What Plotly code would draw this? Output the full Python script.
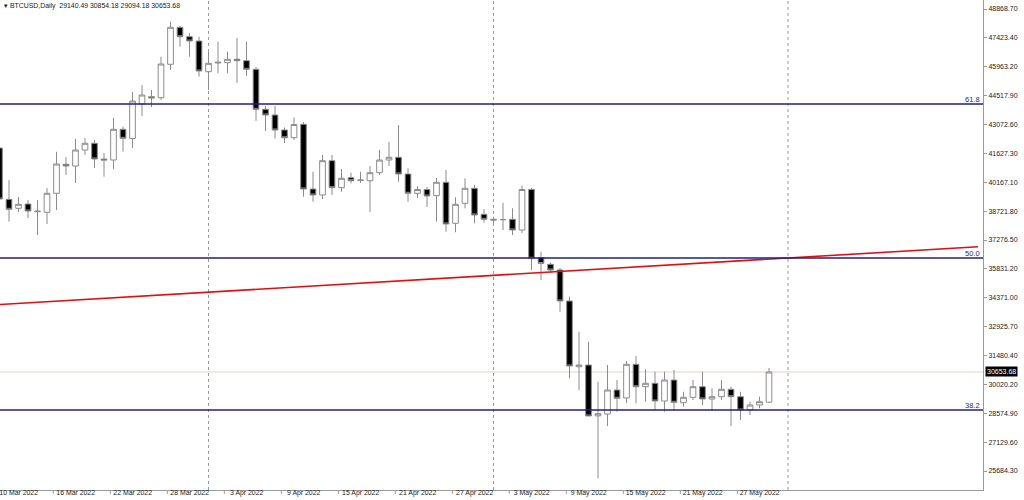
import pandas as pd
import plotly.graph_objects as go

# ---------------- data ----------------
dates = pd.date_range("2022-03-10", "2022-05-30", freq="D")

opens = [41893, 39319, 38867, 39083, 38697, 38667, 39620, 41075, 40990, 41793,
         42129, 41341, 41291, 42832, 42370, 44100, 44468, 44417, 46094, 47950,
         47479, 47263, 45722, 46159, 46174, 46345, 46274, 45843, 43836, 43549,
         42797, 42410, 43083, 39836, 39535, 41256, 39901, 40403, 40262, 40252,
         40654, 41291, 41427, 40588, 39620, 39811, 39500, 40172, 38114, 39118,
         39871, 38566, 38315, 38290, 38315, 37778, 39811, 36398, 36057, 35771,
         34215, 30918, 31003, 28450, 28545, 29749, 29348, 31039, 29914, 30085,
         29197, 30251, 29112, 29383, 29914, 29297, 29413, 29784, 29413, 28745,
         28996, 29140.49]
highs = [42100, 40287, 39434, 39284, 39284, 39886, 41708, 41442, 42345, 42395,
         42295, 41642, 43399, 42962, 44700, 45055, 44805, 46475, 48231, 48016,
         47664, 47479, 46711, 47228, 46726, 47413, 47228, 45958, 44001, 44001,
         42922, 43424, 43198, 40704, 41542, 41542, 40839, 40654, 40704, 40990,
         41793, 42209, 43047, 40874, 39971, 39951, 40388, 40789, 39419, 40373,
         40036, 38817, 38445, 39148, 38867, 40012, 39886, 36689, 36137, 35871,
         34431, 32674, 32173, 30166, 31003, 30251, 31204, 31455, 30787, 30668,
         30668, 30752, 29664, 30251, 30668, 29834, 30251, 29914, 29664, 29162,
         29413, 30854.18]
lows = [39100, 38195, 38681, 38380, 37527, 38079, 38782, 40538, 40137, 41542,
        40890, 40453, 40839, 41708, 41893, 43499, 43951, 44302, 45808, 46977,
        46475, 45471, 44804, 45642, 45642, 45155, 45506, 43248, 42746, 42370,
        42144, 42295, 39449, 39198, 39334, 39535, 39700, 40122, 40137, 38681,
        40538, 40990, 40202, 39198, 39384, 38932, 38195, 37693, 37663, 38867,
        38114, 38145, 38114, 37778, 37527, 37628, 35771, 35269, 35620, 33678,
        30336, 29749, 28444, 25318, 27942, 28660, 29097, 29082, 29162, 28710,
        28660, 28710, 28911, 29247, 28996, 28710, 29247, 27942, 28243, 28494,
        28830, 29094.18]
closes = [39334, 38817, 39068, 38732, 38720, 39620, 41090, 40990, 41793, 42129,
          41341, 41291, 42832, 42380, 44250, 44553, 44402, 46108, 47950, 47479,
          47263, 45757, 46144, 46194, 46345, 46274, 45843, 43836, 43549, 42797,
          42410, 43072, 39836, 39535, 41256, 39901, 40373, 40252, 40287, 40654,
          41291, 41427, 40588, 39620, 39811, 39485, 40172, 38079, 39068, 39871,
          38531, 38315, 38280, 38305, 37778, 39811, 36358, 36097, 35771, 34215,
          30953, 31003, 28444, 28560, 29749, 29333, 31039, 29914, 30085, 29197,
          30251, 29132, 29383, 29914, 29297, 29413, 29784, 29413, 28745, 28996,
          29162, 30653.68]

price_ticks = [48868.70, 47423.40, 45963.20, 44517.90, 43072.60, 41627.30,
               40167.10, 38721.80, 37276.50, 35831.20, 34371.00, 32925.70,
               31480.40, 30020.20, 28574.90, 27129.60, 25684.30]
date_ticks = ["2022-03-10", "2022-03-16", "2022-03-22", "2022-03-28", "2022-04-03",
              "2022-04-09", "2022-04-15", "2022-04-21", "2022-04-27", "2022-05-03",
              "2022-05-09", "2022-05-15", "2022-05-21", "2022-05-27"]
date_labels = ["10 Mar 2022", "16 Mar 2022", "22 Mar 2022", "28 Mar 2022", "3 Apr 2022",
               "9 Apr 2022", "15 Apr 2022", "21 Apr 2022", "27 Apr 2022", "3 May 2022",
               "9 May 2022", "15 May 2022", "21 May 2022", "27 May 2022"]

fib_levels = ["61.8", "50.0", "38.2"]
fib_prices = [44101, 36373, 28745]

trend_dates = ["2022-03-10", "2022-06-21"]
trend_prices = [34038, 36935]

separator_dates = ["2022-04-01", "2022-05-01", "2022-06-01"]

current_price = 30653.68
header = "\u25BE BTCUSD,Daily  29140.49 30854.18 29094.18 30653.68"

# ---------------- layout geometry ----------------
W, H = 1024, 500
plot_right = 983
plot_bottom = 490
px_per_day = 9.5
x_first = 9.0  # pixel centre of 11 Mar
anchor = pd.Timestamp("2022-03-11")
x_left = anchor - pd.Timedelta(days=x_first / px_per_day)
x_right = anchor + pd.Timedelta(days=(plot_right - x_first) / px_per_day)
y_range = [24730.8, 49320.3]

FONT = "Liberation Sans"
TXT = "#222222"
FIB_COL = "#1f1f8c"

fig = go.Figure()

fig.add_trace(go.Candlestick(
    x=dates, open=opens, high=highs, low=lows, close=closes,
    increasing=dict(line=dict(color="#8c8c8c", width=1), fillcolor="white"),
    decreasing=dict(line=dict(color="#8c8c8c", width=1), fillcolor="black"),
    whiskerwidth=0, showlegend=False, hoverinfo="skip",
))

fig.add_trace(go.Scatter(
    x=pd.to_datetime(trend_dates), y=trend_prices, mode="lines",
    line=dict(color="#e01010", width=1.6), showlegend=False, hoverinfo="skip",
))

shapes = []
for d in separator_dates:
    shapes.append(dict(type="line", xref="x", yref="paper", x0=d, x1=d, y0=0, y1=1,
                       line=dict(color="#9a9a9a", width=1, dash="dot"), layer="below"))
for p in fib_prices:
    shapes.append(dict(type="line", xref="paper", yref="y", x0=0, x1=1, y0=p, y1=p,
                       line=dict(color=FIB_COL, width=1.3), layer="above"))
shapes.append(dict(type="line", xref="paper", yref="y", x0=0, x1=1,
                   y0=current_price, y1=current_price,
                   line=dict(color="#e3d6bd", width=1), layer="below"))
# small tick marks below the time axis, left of each date label
for d in date_ticks:
    t = pd.Timestamp(d) - pd.Timedelta(hours=8)
    shapes.append(dict(type="line", xref="x", yref="paper", x0=t, x1=t, y0=0, y1=-0.008,
                       line=dict(color="#9a9a9a", width=1)))

annotations = []
for lab, p in zip(fib_levels, fib_prices):
    annotations.append(dict(x=1, y=p, xref="paper", yref="y", text=lab, showarrow=False,
                            xanchor="right", yanchor="bottom", xshift=-1, yshift=-2,
                            font=dict(family=FONT, size=7.5, color=FIB_COL)))
annotations.append(dict(x=1, y=current_price, xref="paper", yref="y",
                        text=f"{current_price:.2f}", showarrow=False,
                        xanchor="left", yanchor="middle", xshift=2,
                        bgcolor="black", borderpad=1,
                        font=dict(family=FONT, size=7.0, color="white")))
annotations.append(dict(x=0, y=1, xref="paper", yref="paper", text=header,
                        showarrow=False, xanchor="left", yanchor="top", xshift=2, yshift=0,
                        font=dict(family=FONT, size=6.9, color=TXT)))

fig.update_layout(
    width=W, height=H, autosize=False,
    margin=dict(l=0, r=W - plot_right, t=0, b=H - plot_bottom, pad=0, autoexpand=False),
    paper_bgcolor="white", plot_bgcolor="white",
    boxgap=0.15,
    shapes=shapes, annotations=annotations,
    xaxis=dict(
        type="date", range=[x_left, x_right], rangeslider=dict(visible=False),
        tickvals=[pd.Timestamp(d) + pd.Timedelta(hours=3) for d in date_ticks],
        ticktext=date_labels, ticklabelshift=18, ticklabelstandoff=-4,
        ticklabeloverflow="allow",
        automargin=False,
        showgrid=False, zeroline=False,
        showline=True, linecolor="#9a9a9a", linewidth=1,
        ticks="",
        tickfont=dict(family=FONT, size=6.9, color=TXT),
    ),
    yaxis=dict(
        side="right", range=y_range, automargin=False,
        tickvals=price_ticks, ticktext=[f"{v:.2f}" for v in price_ticks],
        ticklabeloverflow="allow",
        showgrid=False, zeroline=False,
        showline=True, linecolor="#9a9a9a", linewidth=1,
        ticks="outside", ticklen=3, tickcolor="#9a9a9a",
        tickfont=dict(family=FONT, size=7.0, color=TXT),
    ),
)

fig.write_html("out.html", config={"displayModeBar": False},
               post_script="document.body.style.margin='0';document.body.style.overflow='hidden';")
